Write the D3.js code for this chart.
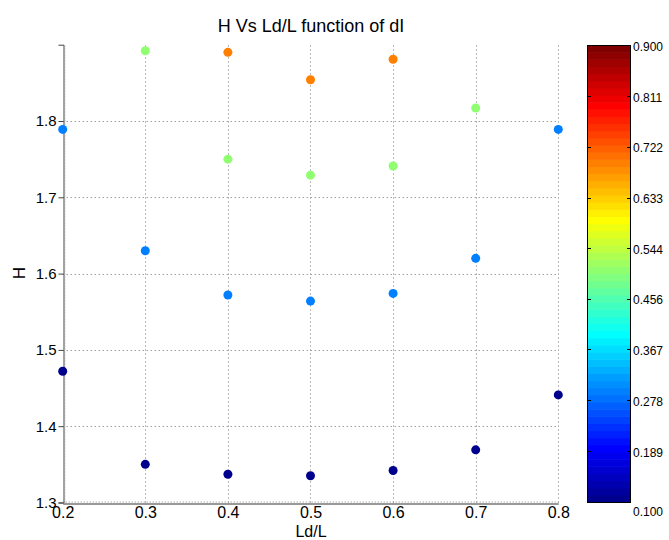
<!DOCTYPE html>
<html><head><meta charset="utf-8">
<script src="https://cdn.jsdelivr.net/npm/d3@7"></script>
<style>body{margin:0;background:#fff;} text{font-family:"Liberation Sans",Arial,Helvetica,sans-serif;}</style>
</head><body>
<svg id="chart" width="669" height="540"></svg>
<script>
const ldL = [0.2, 0.2, 0.3, 0.3, 0.3, 0.4, 0.4, 0.4, 0.4, 0.5, 0.5, 0.5, 0.5, 0.6, 0.6, 0.6, 0.6, 0.7, 0.7, 0.7, 0.8, 0.8];
const H   = [1.789, 1.472, 1.892, 1.630, 1.350, 1.890, 1.750, 1.572, 1.337, 1.854, 1.729, 1.564, 1.335, 1.881, 1.741, 1.574, 1.342, 1.817, 1.620, 1.369, 1.789, 1.441];
const dI  = [0.3, 0.1, 0.5, 0.3, 0.1, 0.7, 0.5, 0.3, 0.1, 0.7, 0.5, 0.3, 0.1, 0.7, 0.5, 0.3, 0.1, 0.5, 0.3, 0.1, 0.3, 0.1];
const xTicks = [0.2, 0.3, 0.4, 0.5, 0.6, 0.7, 0.8];
const yTicks = [1.3, 1.4, 1.5, 1.6, 1.7, 1.8];
const cTicks = [0.100, 0.189, 0.278, 0.367, 0.456, 0.544, 0.633, 0.722, 0.811, 0.900];
const cRange = [0.1, 0.9];
const title = "H Vs Ld/L function of dI";

// MATLAB jet(64)
function jet64() {
  const m = 64, n = 16;
  const u = [];
  for (let i = 1; i <= n; i++) u.push(i / n);
  for (let i = 0; i < n - 1; i++) u.push(1);
  for (let i = n; i >= 1; i--) u.push(i / n);
  const cols = Array.from({length: m}, () => [0, 0, 0]);
  for (let k = 0; k < u.length; k++) {
    const g = 8 + k + 1, r = g + n, b = g - n;
    if (r >= 1 && r <= m) cols[r - 1][0] = u[k];
    if (g >= 1 && g <= m) cols[g - 1][1] = u[k];
    if (b >= 1 && b <= m) cols[b - 1][2] = u[k];
  }
  return cols.map(c => d3.rgb(c[0] * 255, c[1] * 255, c[2] * 255).formatHex());
}
const cmap = jet64();
function colorOf(v) {
  let idx = Math.floor((v - cRange[0]) / (cRange[1] - cRange[0]) * 64);
  idx = Math.max(0, Math.min(63, idx));
  return cmap[idx];
}

const svg = d3.select("#chart");
svg.append("rect").attr("width", 669).attr("height", 540).attr("fill", "#fff");

const x = d3.scaleLinear().domain([0.2, 0.8]).range([62.7, 558.3]);
const y = d3.scaleLinear().domain([1.3, 1.9]).range([502.5, 44.7]);

// grid
const grid = svg.append("g").attr("stroke", "#777").attr("stroke-width", 1).attr("stroke-dasharray", "1,3");
xTicks.slice(1).forEach(t => {
  grid.append("line").attr("x1", Math.round(x(t)) + 0.5).attr("x2", Math.round(x(t)) + 0.5)
    .attr("y1", y(1.3)).attr("y2", y(1.9));
});
yTicks.slice(1).forEach(t => {
  grid.append("line").attr("y1", Math.round(y(t)) + 0.5).attr("y2", Math.round(y(t)) + 0.5)
    .attr("x1", x(0.2)).attr("x2", x(0.8));
});

// axes
const xAxis = d3.axisBottom(x).tickValues(xTicks).tickFormat(d3.format(".1f")).tickSize(0).tickPadding(3);
const gx = svg.append("g").attr("transform", `translate(0,${Math.round(y(1.3)) + 0.5})`).call(xAxis);
gx.select(".domain").attr("stroke", "#333");
gx.selectAll("text").attr("font-size", 16).attr("fill", "#000").attr("font-family", "Liberation Sans, Arial, sans-serif");

const yAxis = d3.axisLeft(y).tickValues(yTicks).tickFormat(d3.format(".1f")).tickSize(5).tickPadding(2);
const gy = svg.append("g").attr("transform", `translate(${Math.round(x(0.2)) + 0.5},0)`).call(yAxis);
gy.select(".domain").attr("stroke", "#444");
gy.selectAll(".tick line").attr("stroke", "#444");
gy.selectAll("text").attr("font-size", 15).attr("fill", "#000").attr("font-family", "Liberation Sans, Arial, sans-serif");

// minor comb ticks on axes
const minor = svg.append("g").attr("stroke", "#888").attr("stroke-width", 1);
minor.append("line").attr("x1", x(0.2)).attr("x2", x(0.8))
  .attr("y1", Math.round(y(1.3)) - 1).attr("y2", Math.round(y(1.3)) - 1).attr("stroke-dasharray", "1,2");
minor.append("line").attr("y1", y(1.3)).attr("y2", y(1.9))
  .attr("x1", Math.round(x(0.2)) + 2).attr("x2", Math.round(x(0.2)) + 2).attr("stroke-dasharray", "1,2").attr("stroke", "#aaa");

// points
svg.append("g").selectAll("circle").data(ldL.map((d, i) => ({x: d, y: H[i], c: dI[i]})))
  .join("circle")
  .attr("cx", d => x(d.x)).attr("cy", d => y(d.y)).attr("r", 4.5)
  .attr("fill", d => colorOf(d.c));

// titles
svg.append("text").attr("x", 311).attr("y", 32).attr("text-anchor", "middle")
  .attr("font-size", 18).text(title);
svg.append("text").attr("x", 311).attr("y", 536.5).attr("text-anchor", "middle")
  .attr("font-size", 16).text("Ld/L");
svg.append("text").attr("transform", "translate(25,273) rotate(-90)").attr("text-anchor", "middle")
  .attr("font-size", 17).text("H");

// colorbar
const cbX = 587, cbW = 44;
const cy = d3.scaleLinear().domain(cRange).range([502, 45]);
const cb = svg.append("g");
const bandVals = d3.range(64);
cb.selectAll("rect.band").data(bandVals).join("rect").attr("class", "band")
  .attr("x", cbX).attr("width", cbW)
  .attr("y", i => cy(cRange[0] + (i + 1) * (cRange[1] - cRange[0]) / 64))
  .attr("height", i => cy(cRange[0] + i * (cRange[1] - cRange[0]) / 64) - cy(cRange[0] + (i + 1) * (cRange[1] - cRange[0]) / 64) + 0.6)
  .attr("fill", i => cmap[i]);
cb.append("rect").attr("x", cbX + 0.5).attr("y", cy(0.9) + 0.5).attr("width", cbW - 1).attr("height", cy(0.1) - cy(0.9))
  .attr("fill", "none").attr("stroke", "#000").attr("stroke-width", 1);
cTicks.slice(1, -1).forEach(t => {
  const yy = Math.round(cy(t)) + 0.5;
  cb.append("line").attr("x1", cbX).attr("x2", cbX + 4).attr("y1", yy).attr("y2", yy).attr("stroke", "#000");
  cb.append("line").attr("x1", cbX + cbW - 4).attr("x2", cbX + cbW).attr("y1", yy).attr("y2", yy).attr("stroke", "#000");
});
cTicks.forEach((t, i) => {
  const off = (i === 0) ? 10 : 1.5;
  cb.append("text").attr("x", cbX + cbW + 2).attr("y", cy(t) + off).attr("dy", "0.35em")
    .attr("font-size", 12).text(d3.format(".3f")(t));
});
</script>
</body></html>
